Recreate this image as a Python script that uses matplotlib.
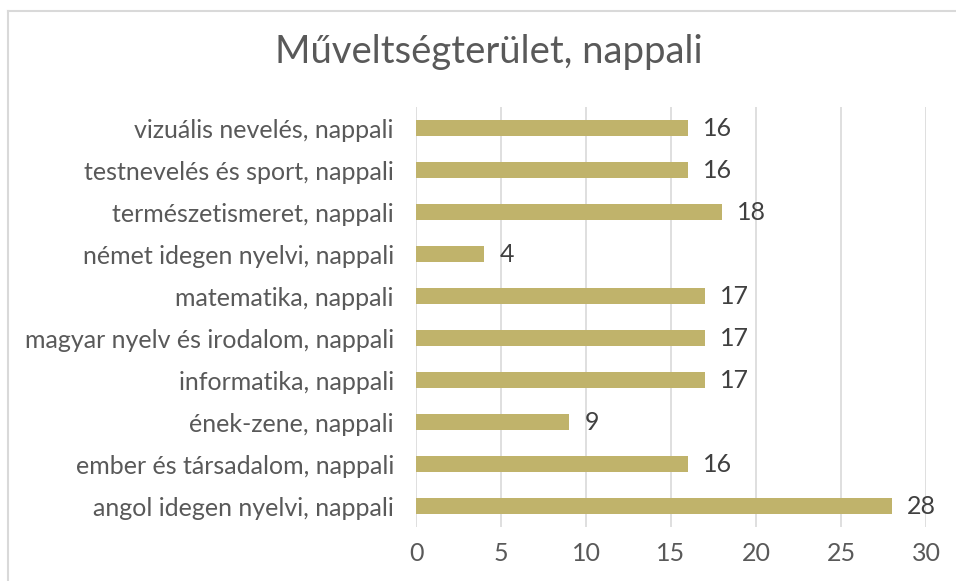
import matplotlib

matplotlib.use("Agg")
import matplotlib.pyplot as plt
from matplotlib.lines import Line2D

categories = [
    "angol idegen nyelvi, nappali",
    "ember és társadalom, nappali",
    "ének-zene, nappali",
    "informatika, nappali",
    "magyar nyelv és irodalom, nappali",
    "matematika, nappali",
    "német idegen nyelvi, nappali",
    "természetismeret, nappali",
    "testnevelés és sport, nappali",
    "vizuális nevelés, nappali",
]
values = [28, 16, 9, 17, 17, 17, 4, 18, 16, 16]
x_ticks = [0, 5, 10, 15, 20, 25, 30]
title = "Műveltségterület, nappali"

BAR = "#C0B36B"
GRID = "#D9D9D9"
TEXT = "#595959"

plt.rcParams["font.family"] = ["Lato", "DejaVu Sans"]

fig = plt.figure(figsize=(9.56, 5.81), dpi=100)
ax = fig.add_axes([416 / 956, 54 / 581, 510 / 956, 420 / 581])

pos = list(range(len(categories)))
ax.barh(pos, values, height=0.36, color=BAR, zorder=3)
for y, v in zip(pos, values):
    ax.annotate(str(v), (v, y), xytext=(11, 0), textcoords="offset points",
                ha="left", va="center", fontsize=18, color="#404040")

ax.set_xlim(0, 30)
ax.set_ylim(-0.5, len(categories) - 0.5)
ax.set_xticks(x_ticks)
ax.set_yticks(pos)
ax.set_yticklabels(categories)
ax.tick_params(axis="y", length=0, pad=16, labelsize=18, labelcolor=TEXT)
ax.tick_params(axis="x", length=0, pad=11, labelsize=18, labelcolor=TEXT)
ax.grid(axis="x", color=GRID, lw=1.2, zorder=0)
for s in ax.spines.values():
    s.set_visible(False)

fig.suptitle(title, x=489 / 956, y=1 - 52 / 581, va="center",
             fontsize=27.5, color=TEXT)

# chart area border (left and top edges visible)
fig.add_artist(Line2D([7.5 / 956, 7.5 / 956], [0, 1 - 10.5 / 581],
                      transform=fig.transFigure, color=GRID, lw=1.5))
fig.add_artist(Line2D([7.5 / 956, 1], [1 - 10.5 / 581, 1 - 10.5 / 581],
                      transform=fig.transFigure, color=GRID, lw=1.5))

fig.savefig("out.png", dpi=100)
